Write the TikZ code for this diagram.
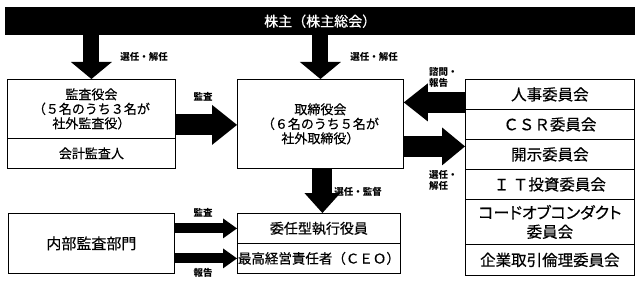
\documentclass[tikz,border=0pt]{standalone}
\usepackage{fontspec}
\setmainfont{Noto Sans CJK JP}
\newfontfamily\jpm[FakeBold=0.5]{Noto Sans CJK JP}
\newfontfamily\jpp[FakeBold=0.5,RawFeature=+palt]{Noto Sans CJK JP}
\usetikzlibrary{arrows.meta,calc}
\tikzset{
  box/.style={draw=black, line width=0.8pt, anchor=north west, inner sep=0pt, align=center,
    font=\jpm\fontsize{13pt}{14.5pt}\selectfont},
  cbox/.style={box, minimum width=169pt, font=\jpm\fontsize{15.5pt}{19pt}\selectfont},
  lbl/.style={inner sep=0pt, font=\fontsize{9.5pt}{11pt}\selectfont\bfseries},
  blk/.style n args={3}{draw=black, line width=#1, -{Triangle[width=#2,length=#3,line width=0pt]}}
}
\begin{document}
\begin{tikzpicture}[x=1pt,y=-1pt]
\useasboundingbox (0,0) rectangle (640,286);
% shareholders bar
\node[fill=black, text=white, anchor=north west, inner sep=0pt, minimum width=630pt, minimum height=28pt,
  font=\jpm\fontsize{14pt}{14pt}\selectfont] (bar) at (5,7) {株主（株主総会）};
% left boxes
\node[box, minimum width=168pt, minimum height=59pt] (kansa) at (7,79) {監査役会\\（５名のうち３名が\\社外監査役）};
\node[box, minimum width=168pt, minimum height=30pt] (kaikei) at (7,138) {会計監査人};
% board
\node[box, minimum width=166pt, minimum height=89pt] (tori) at (237,79) {取締役会\\（６名のうち５名が\\社外取締役）};
% committees
\node[cbox, minimum height=30pt] (jinji) at (465,79) {人事委員会};
\node[cbox, minimum height=30pt] (csr) at (465,109) {ＣＳＲ委員会};
\node[cbox, minimum height=30pt] (kaiji) at (465,139) {開示委員会};
\node[cbox, minimum height=30pt] (it) at (465,169) {Ｉ Ｔ投資委員会};
\node[cbox, minimum height=45pt] (code) at (465,199) {{\jpp\fontsize{16pt}{19pt}\selectfont コードオブコンダクト}\\委員会};
\node[cbox, minimum height=31pt] (kigyo) at (465,244) {企業取引倫理委員会};
% internal audit
\node[box, minimum width=166pt, minimum height=60pt, font=\jpm\fontsize{15pt}{16pt}\selectfont] (naibu) at (8,213) {内部監査部門};
% executives
\node[box, minimum width=163pt, minimum height=30pt, font=\jpm\fontsize{14pt}{15pt}\selectfont] (exec) at (237,213) {委任型執行役員};
\node[box, minimum width=163pt, minimum height=30pt, font=\jpm\fontsize{13.5pt}{15pt}\selectfont] (ceo) at (237,243) {最高経営責任者（ＣＥＯ）};
% arrows
\draw[blk={16pt}{41pt}{17pt}] (bar.south -| kansa.north) -- (kansa.north);
\draw[blk={16pt}{41pt}{17pt}] (bar.south -| tori.north) -- (tori.north);
\coordinate (k1) at ($(kansa.east)+(0,16)$);
\draw[blk={21pt}{40pt}{25pt}] (k1) -- (k1 -| tori.west);
\coordinate (j1) at ($(jinji.west)+(0,8)$);
\draw[blk={21pt}{38pt}{24pt}] (j1) -- (j1 -| tori.east);
\coordinate (c1) at ($(kaiji.west)+(0,-8)$);
\draw[blk={21pt}{38pt}{23pt}] (c1 -| tori.east) -- (c1);
\coordinate (t1) at ($(tori.south)+(2,0)$);
\draw[blk={20pt}{36pt}{20pt}] (t1) -- (t1 |- exec.north);
\coordinate (n1) at ($(naibu.east)+(0,-15)$);
\coordinate (n2) at ($(naibu.east)+(0,15)$);
\draw[blk={10pt}{20pt}{14pt}] (n1) -- (n1 -| exec.west);
\draw[blk={10pt}{20pt}{14pt}] (n2) -- (n2 -| ceo.west);
% labels
\node[lbl] (l1) at (144,57) {選任・解任};
\node[lbl] (l2) at (374,57) {選任・解任};
\node[lbl] (l3) at (203,97) {監査};
\node[lbl, anchor=west, align=left] (l4) at (429,77) {諮問・\\報告};
\node[lbl, anchor=west, align=left] (l5) at (429,180) {選任・\\解任};
\node[lbl] (l6) at (358,192) {選任・監督};
\node[lbl] (l7) at (203,213) {監査};
\node[lbl] (l8) at (203,273) {報告};
\end{tikzpicture}
\end{document}
